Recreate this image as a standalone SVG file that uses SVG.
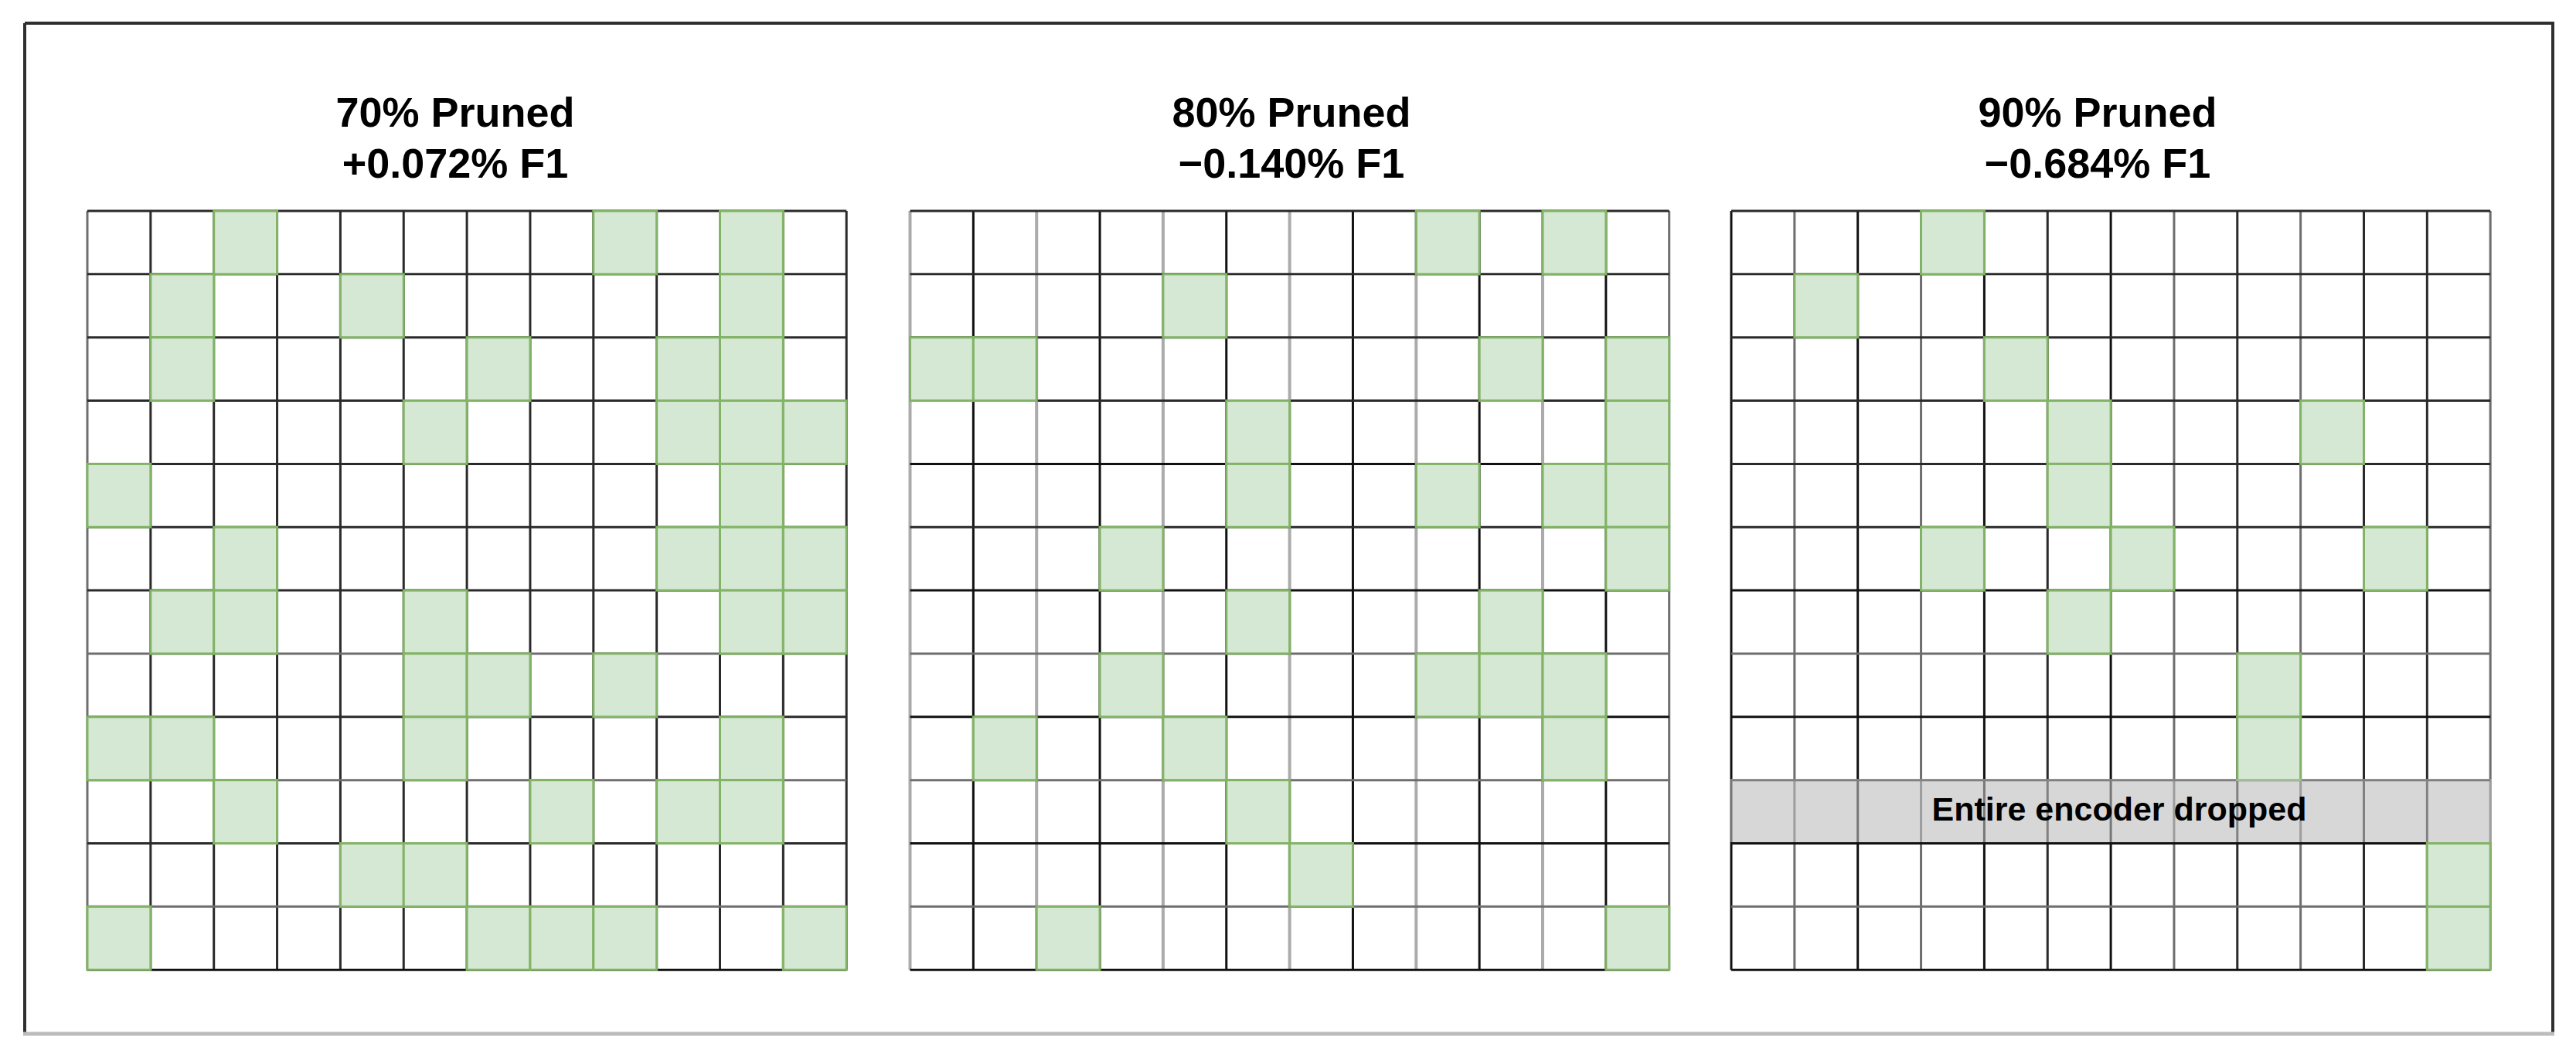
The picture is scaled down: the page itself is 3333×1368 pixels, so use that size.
<svg xmlns="http://www.w3.org/2000/svg" xmlns:xlink="http://www.w3.org/1999/xlink" width="3333" height="1368" viewBox="0 0 3333 1368">
<style>
.t{font-family:"Liberation Sans",Arial,Helvetica,sans-serif;font-weight:bold;font-size:54px;fill:#000;text-anchor:middle}
.bt{font-family:"Liberation Sans",Arial,Helvetica,sans-serif;font-weight:bold;font-size:43px;fill:#000;text-anchor:middle}
.bg{fill:#fff}
.d{stroke:#2a2a2a;stroke-width:3;fill:none}
.k{stroke:#111;stroke-width:3;fill:none}
.m{stroke:#6e6e6e;stroke-width:3;fill:none}
.l{stroke:#ababab;stroke-width:4;fill:none}
.g{fill:#d5e8d4;stroke:#82b366;stroke-width:3}
.band{fill:#bdbdbd;opacity:0.6}
</style>
<defs>
<rect id="c" width="81.85" height="81.85" class="g"/>
<line id="v" x1="0" y1="0" x2="0" y2="982.2"/>
<line id="h" x1="0" y1="0" x2="982.2" y2="0"/>
</defs>
<rect x="0" y="0" width="3333" height="1368" fill="#fff"/>
<g id="frame">
<line x1="32" y1="30" x2="3303" y2="30" stroke="#2f2f2f" stroke-width="4"/>
<line x1="32" y1="30" x2="32" y2="1337" stroke="#2f2f2f" stroke-width="4"/>
<line x1="3303" y1="28" x2="3303" y2="1337" stroke="#2f2f2f" stroke-width="4"/>
<line x1="30" y1="1338" x2="3305" y2="1338" stroke="#bcbcbc" stroke-width="5"/>
</g>

<g id="panel-70">
<text class="t" x="589" y="164">70% Pruned</text>
<text class="t" x="589" y="230">+0.072% F1</text>
<g transform="translate(113,273)">
<rect class="bg" width="982.2" height="982.2"/>
<g class="d">
<use href="#v" x="0" class="m"/><use href="#v" x="81.85"/><use href="#v" x="163.7"/><use href="#v" x="245.55"/><use href="#v" x="327.4"/><use href="#v" x="409.25"/><use href="#v" x="491.1"/><use href="#v" x="572.95"/><use href="#v" x="654.8"/><use href="#v" x="736.65"/><use href="#v" x="818.5"/><use href="#v" x="900.35"/><use href="#v" x="982.2"/>
<use href="#h" y="0"/><use href="#h" y="81.85"/><use href="#h" y="163.7"/><use href="#h" y="245.55"/><use href="#h" y="327.4"/><use href="#h" y="409.25"/><use href="#h" y="491.1"/><use href="#h" y="572.95" class="m"/><use href="#h" y="654.8"/><use href="#h" y="736.65" class="m"/><use href="#h" y="818.5"/><use href="#h" y="900.35" class="m"/><use href="#h" y="982.2" class="k"/>
</g>
<g>
<use href="#c" x="163.7" y="0"/><use href="#c" x="654.8" y="0"/><use href="#c" x="818.5" y="0"/>
<use href="#c" x="81.85" y="81.85"/><use href="#c" x="327.4" y="81.85"/><use href="#c" x="818.5" y="81.85"/>
<use href="#c" x="81.85" y="163.7"/><use href="#c" x="491.1" y="163.7"/><use href="#c" x="736.65" y="163.7"/><use href="#c" x="818.5" y="163.7"/>
<use href="#c" x="409.25" y="245.55"/><use href="#c" x="736.65" y="245.55"/><use href="#c" x="818.5" y="245.55"/><use href="#c" x="900.35" y="245.55"/>
<use href="#c" x="0" y="327.4"/><use href="#c" x="818.5" y="327.4"/>
<use href="#c" x="163.7" y="409.25"/><use href="#c" x="736.65" y="409.25"/><use href="#c" x="818.5" y="409.25"/><use href="#c" x="900.35" y="409.25"/>
<use href="#c" x="81.85" y="491.1"/><use href="#c" x="163.7" y="491.1"/><use href="#c" x="409.25" y="491.1"/><use href="#c" x="818.5" y="491.1"/><use href="#c" x="900.35" y="491.1"/>
<use href="#c" x="409.25" y="572.95"/><use href="#c" x="491.1" y="572.95"/><use href="#c" x="654.8" y="572.95"/>
<use href="#c" x="0" y="654.8"/><use href="#c" x="81.85" y="654.8"/><use href="#c" x="409.25" y="654.8"/><use href="#c" x="818.5" y="654.8"/>
<use href="#c" x="163.7" y="736.65"/><use href="#c" x="572.95" y="736.65"/><use href="#c" x="736.65" y="736.65"/><use href="#c" x="818.5" y="736.65"/>
<use href="#c" x="327.4" y="818.5"/><use href="#c" x="409.25" y="818.5"/>
<use href="#c" x="0" y="900.35"/><use href="#c" x="491.1" y="900.35"/><use href="#c" x="572.95" y="900.35"/><use href="#c" x="654.8" y="900.35"/><use href="#c" x="900.35" y="900.35"/>
</g>
</g>
</g>

<g id="panel-80">
<text class="t" x="1671" y="164">80% Pruned</text>
<text class="t" x="1671" y="230">−0.140% F1</text>
<g transform="translate(1177.5,273)">
<rect class="bg" width="982.2" height="982.2"/>
<g class="k">
<use href="#v" x="0" class="l"/><use href="#v" x="81.85"/><use href="#v" x="163.7" class="l"/><use href="#v" x="245.55"/><use href="#v" x="327.4" class="l"/><use href="#v" x="409.25"/><use href="#v" x="491.1" class="l"/><use href="#v" x="572.95"/><use href="#v" x="654.8" class="l"/><use href="#v" x="736.65"/><use href="#v" x="818.5" class="l"/><use href="#v" x="900.35"/><use href="#v" x="982.2" class="m"/>
<use href="#h" y="0" class="d"/><use href="#h" y="81.85" class="d"/><use href="#h" y="163.7" class="d"/><use href="#h" y="245.55" class="d"/><use href="#h" y="327.4"/><use href="#h" y="409.25" class="d"/><use href="#h" y="491.1"/><use href="#h" y="572.95" class="m"/><use href="#h" y="654.8"/><use href="#h" y="736.65" class="m"/><use href="#h" y="818.5"/><use href="#h" y="900.35" class="m"/><use href="#h" y="982.2"/>
</g>
<g>
<use href="#c" x="654.8" y="0"/><use href="#c" x="818.5" y="0"/>
<use href="#c" x="327.4" y="81.85"/>
<use href="#c" x="0" y="163.7"/><use href="#c" x="81.85" y="163.7"/><use href="#c" x="736.65" y="163.7"/><use href="#c" x="900.35" y="163.7"/>
<use href="#c" x="409.25" y="245.55"/><use href="#c" x="900.35" y="245.55"/>
<use href="#c" x="409.25" y="327.4"/><use href="#c" x="654.8" y="327.4"/><use href="#c" x="818.5" y="327.4"/><use href="#c" x="900.35" y="327.4"/>
<use href="#c" x="245.55" y="409.25"/><use href="#c" x="900.35" y="409.25"/>
<use href="#c" x="409.25" y="491.1"/><use href="#c" x="736.65" y="491.1"/>
<use href="#c" x="245.55" y="572.95"/><use href="#c" x="654.8" y="572.95"/><use href="#c" x="736.65" y="572.95"/><use href="#c" x="818.5" y="572.95"/>
<use href="#c" x="81.85" y="654.8"/><use href="#c" x="327.4" y="654.8"/><use href="#c" x="818.5" y="654.8"/>
<use href="#c" x="409.25" y="736.65"/>
<use href="#c" x="491.1" y="818.5"/>
<use href="#c" x="163.7" y="900.35"/><use href="#c" x="900.35" y="900.35"/>
</g>
</g>
</g>

<g id="panel-90">
<text class="t" x="2714" y="164">90% Pruned</text>
<text class="t" x="2714" y="230">−0.684% F1</text>
<g transform="translate(2240,273)">
<rect class="bg" width="982.2" height="982.2"/>
<g class="d">
<use href="#v" x="0" class="k"/><use href="#v" x="81.85" class="m"/><use href="#v" x="163.7" class="k"/><use href="#v" x="245.55" class="m"/><use href="#v" x="327.4" class="k"/><use href="#v" x="409.25"/><use href="#v" x="491.1" class="k"/><use href="#v" x="572.95" class="m"/><use href="#v" x="654.8"/><use href="#v" x="736.65" class="m"/><use href="#v" x="818.5"/><use href="#v" x="900.35"/><use href="#v" x="982.2" class="m"/>
<use href="#h" y="0"/><use href="#h" y="81.85"/><use href="#h" y="163.7"/><use href="#h" y="245.55"/><use href="#h" y="327.4"/><use href="#h" y="409.25"/><use href="#h" y="491.1" class="k"/><use href="#h" y="572.95" class="m"/><use href="#h" y="654.8" class="k"/><use href="#h" y="736.65"/><use href="#h" y="818.5" class="k"/><use href="#h" y="900.35" class="m"/><use href="#h" y="982.2" class="k"/>
</g>
<g>
<use href="#c" x="245.55" y="0"/>
<use href="#c" x="81.85" y="81.85"/>
<use href="#c" x="327.4" y="163.7"/>
<use href="#c" x="409.25" y="245.55"/><use href="#c" x="736.65" y="245.55"/>
<use href="#c" x="409.25" y="327.4"/>
<use href="#c" x="245.55" y="409.25"/><use href="#c" x="491.1" y="409.25"/><use href="#c" x="818.5" y="409.25"/>
<use href="#c" x="409.25" y="491.1"/>
<use href="#c" x="654.8" y="572.95"/>
<use href="#c" x="654.8" y="654.8"/>
<use href="#c" x="900.35" y="818.5"/>
<use href="#c" x="900.35" y="900.35"/>
</g>
<g id="dropped">
<rect class="band" x="-1.5" y="735" width="985.2" height="82"/>
<text class="bt" x="502" y="789">Entire encoder dropped</text>
</g>
</g>
</g>
</svg>
